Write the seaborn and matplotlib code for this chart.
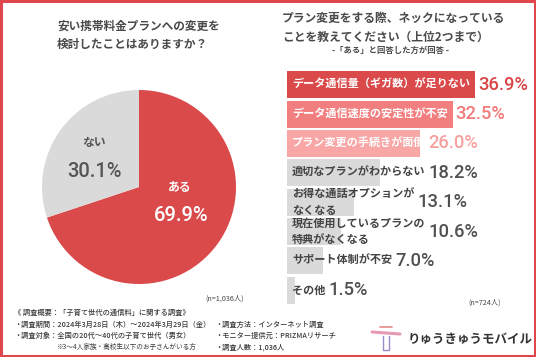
import matplotlib
matplotlib.use("Agg")
import matplotlib.pyplot as plt
import seaborn as sns
import pandas as pd
from matplotlib.patches import Rectangle

# ---------------- data ----------------
pie_labels = ["ある", "ない"]
pie_values = [69.9, 30.1]

bar_labels = [
    "データ通信量（ギガ数）が足りない",
    "データ通信速度の安定性が不安",
    "プラン変更の手続きが面倒",
    "適切なプランがわからない",
    "お得な通話オプションが\nなくなる",
    "現在使用しているプランの\n特典がなくなる",
    "サポート体制が不安",
    "その他",
]
bar_values = [36.9, 32.5, 26.0, 18.2, 13.1, 10.6, 7.0, 1.5]

pie_title = "安い携帯料金プランへの変更を\n検討したことはありますか？"
bar_title = "プラン変更をする際、ネックになっている\nことを教えてください（上位2つまで）"
bar_subtitle = "-「ある」と回答した方が回答 -"
pie_n = "(n=1,036人)"
bar_n = "(n=724人)"
footer_left = [
    "《 調査概要：「子育て世代の通信料」に関する調査》",
    "・調査期間：2024年3月28日（木）～2024年3月29日（金）",
    "・調査対象：全国の20代～40代の子育て世代（男女）",
]
footer_note = "※3～4人家族・高校生以下のお子さんがいる方"
footer_right = [
    "・調査方法：インターネット調査",
    "・モニター提供元：PRIZMAリサーチ",
    "・調査人数：1,036人",
]
logo_text = "りゅうきゅうモバイル"

# ---------------- style ----------------
RED = "#db4a4b"
PINK = "#f27f80"
LPINK = "#f8a6a6"
GRAY = "#dadada"
bar_colors = [RED, PINK, LPINK, GRAY, GRAY, GRAY, GRAY, GRAY]
val_colors = ["#d94546", "#f27a7b", "#f7a0a0", "#505050", "#505050", "#505050", "#505050", "#505050"]
lab_colors = ["white", "white", "white", "#444444", "#444444", "#444444", "#444444", "#444444"]

sns.set_theme(style="white")
JP = ["Noto Sans CJK JP", "DejaVu Sans"]
NUM = ["Roboto", "DejaVu Sans"]
plt.rcParams["font.family"] = JP

W, H = 536, 357
fig = plt.figure(figsize=(W / 100, H / 100), dpi=100)
fig.patch.set_facecolor("white")

def px(x, y):
    return x / W, 1 - y / H

# ---------------- pie ----------------
cx, cy, r = 139, 187, 97
axp = fig.add_axes([(cx - r) / W, (H - cy - r) / H, 2 * r / W, 2 * r / H])
axp.pie(pie_values, colors=[RED, GRAY], startangle=90, counterclock=False,
        wedgeprops=dict(linewidth=0))
axp.set_xlim(-1, 1)
axp.set_ylim(-1, 1)
axp.set_aspect("equal")
axp.axis("off")
axp.text(0.42, 0.0, pie_labels[0], color="white", fontsize=8.5, fontweight="bold",
         ha="center", va="center", family=JP)
axp.text(0.43, -0.29, f"{pie_values[0]:.1f}%", color="white", fontsize=14.5,
         ha="center", va="center", family=NUM, fontweight="medium")
axp.text(-0.46, 0.46, pie_labels[1], color="#555555", fontsize=8.5, fontweight="bold",
         ha="center", va="center", family=JP)
axp.text(-0.46, 0.155, f"{pie_values[1]:.1f}%", color="#555555", fontsize=14.5,
         ha="center", va="center", family=NUM, fontweight="medium")

# ---------------- bars ----------------
bx0, by0, by1 = 287, 70, 305
xmax = 48
axb = fig.add_axes([bx0 / W, (H - by1) / H, xmax * 5.1 / W, (by1 - by0) / H])
df = pd.DataFrame({"label": bar_labels, "value": bar_values})
sns.barplot(data=df, y="label", x="value", hue="label", palette=bar_colors,
            orient="h", width=0.92, legend=False, ax=axb, linewidth=0, saturation=1)
axb.set_xlim(0, xmax)
axb.set_ylim(len(bar_labels) - 0.5, -0.5)
axb.axis("off")

label_texts = []
for i, (lab, col) in enumerate(zip(bar_labels, lab_colors)):
    t = axb.annotate(lab, xy=(0, i), xytext=(3.6, 0), textcoords="offset points",
                     ha="left", va="center", color=col, fontsize=8,
                     fontweight="bold", family=JP, linespacing=1.3)
    label_texts.append(t)

fig.canvas.draw()
renderer = fig.canvas.get_renderer()
inv = axb.transData.inverted()
for i, (t, v, vc) in enumerate(zip(label_texts, bar_values, val_colors)):
    bb = t.get_window_extent(renderer)
    bar_end = axb.transData.transform((v, i))[0]
    xdisp = max(bb.x1, bar_end) + 3
    xd = inv.transform((xdisp, 0))[0]
    axb.text(xd, i, f"{v:.1f}%", ha="left", va="center", color=vc,
             fontsize=13.2, family=NUM, fontweight="medium")

# ---------------- titles & notes ----------------
fig.text(*px(57, 35), pie_title, ha="left", va="center", fontsize=8.4,
         color="#4a4a4a", fontweight="bold", linespacing=1.55)
fig.text(*px(282, 28), bar_title, ha="left", va="center", fontsize=8.5,
         color="#4a4a4a", fontweight="bold", linespacing=1.55)
fig.text(*px(390, 50), bar_subtitle, ha="center", va="center", fontsize=6,
         color="#4a4a4a", fontweight="bold")
fig.text(*px(225, 299), pie_n, ha="center", va="center", fontsize=5.2, color="#444444")
fig.text(*px(485, 303), bar_n, ha="center", va="center", fontsize=5.2, color="#444444")

for k, s in enumerate(footer_left):
    fig.text(*px(14, 313 + 11.5 * k), s, ha="left", va="center", fontsize=5.2,
             color="#3a3a3a", fontweight="medium")
fig.text(*px(56, 347), footer_note, ha="left", va="center", fontsize=4.8, color="#3a3a3a")
for k, s in enumerate(footer_right):
    fig.text(*px(215, 324.5 + 11.5 * k), s, ha="left", va="center", fontsize=5.2,
             color="#3a3a3a", fontweight="medium")

# logo
fig.text(*px(408, 339), logo_text, ha="left", va="center", fontsize=9,
         color="#333333", fontweight="bold")
fig.add_artist(plt.Line2D([px(372, 0)[0], px(400, 0)[0]], [px(0, 332)[1], px(0, 334)[1]],
                          color="#e79ab5", lw=2.2, transform=fig.transFigure))
fig.add_artist(plt.Line2D([px(380, 0)[0], px(392, 0)[0]], [px(0, 327)[1], px(0, 327)[1]],
                          color="#e58a8a", lw=1.2, transform=fig.transFigure))
fig.add_artist(plt.Line2D([px(383, 0)[0], px(383, 0)[0], px(389, 0)[0], px(389, 0)[0]],
                          [px(0, 336)[1], px(0, 350)[1], px(0, 350)[1], px(0, 336)[1]],
                          color="#9a8cc8", lw=1.0, transform=fig.transFigure))

# border
fig.add_artist(Rectangle((0.002, 0.003), 0.996, 0.994, transform=fig.transFigure,
                         fill=False, edgecolor="#e0474c", linewidth=2.2))

fig.savefig("out.png", dpi=100, facecolor="white")
